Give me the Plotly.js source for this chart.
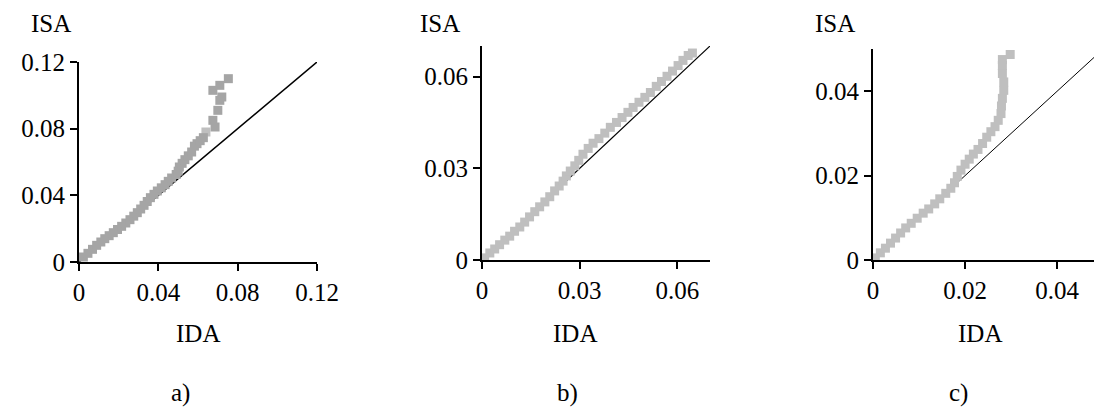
<!DOCTYPE html>
<html>
<head>
<meta charset="utf-8">
<script src="https://cdn.plot.ly/plotly-3.0.1.min.js"></script>
<style>
html,body{margin:0;padding:0;background:#fff;}
#chart{width:1094px;height:408px;}
</style>
</head>
<body>
<div id="chart"></div>
<script>
// Panel a)
const idaA = [0.0022,0.0045,0.0068,0.0089,0.011,0.013,0.0152,0.0173,0.0194,0.0215,0.0236,0.0257,0.0276,0.0294,0.0311,0.0328,0.0344,0.036,0.0378,0.0395,0.0415,0.0434,0.045,0.0467,0.0490,0.0500,0.0506,0.0520,0.0534,0.0551,0.0568,0.0582,0.0595,0.0611,0.0627,0.0675,0.0686,0.0700,0.071,0.072,0.0675,0.071,0.0753];
const isaA = [0.003,0.0052,0.0076,0.010,0.012,0.014,0.0158,0.0176,0.0195,0.0214,0.0234,0.0254,0.0275,0.0296,0.0318,0.034,0.0363,0.0386,0.0406,0.0426,0.0445,0.0464,0.0484,0.0504,0.0525,0.0545,0.057,0.0592,0.0614,0.0637,0.066,0.0695,0.0710,0.0728,0.0746,0.085,0.081,0.091,0.097,0.099,0.103,0.106,0.110];
const idaA2 = [0.0640];
const isaA2 = [0.0780];
// Panel b)
const idaB = [0.0008,0.0024,0.0039,0.0054,0.007,0.0085,0.010,0.0116,0.0131,0.0146,0.0162,0.0177,0.0193,0.0208,0.0223,0.0237,0.0249,0.0259,0.0271,0.0285,0.0297,0.031,0.0326,0.0341,0.0359,0.0377,0.0394,0.0413,0.043,0.0448,0.0464,0.0482,0.05,0.0517,0.0535,0.0551,0.0568,0.0585,0.0602,0.0617,0.0633,0.0646];
const isaB = [0.0007,0.0023,0.0036,0.005,0.0065,0.0078,0.0094,0.0108,0.0124,0.0141,0.0158,0.0174,0.019,0.0207,0.0226,0.0242,0.0258,0.0275,0.0291,0.0308,0.0326,0.0346,0.0365,0.0382,0.0397,0.0415,0.0434,0.045,0.0466,0.0483,0.0499,0.0516,0.0532,0.0548,0.0568,0.0584,0.0601,0.0618,0.0636,0.0653,0.0669,0.0677];
// Panel c)
const idaC = [0.0005,0.0016,0.0027,0.0038,0.0049,0.006,0.0071,0.0083,0.0096,0.0109,0.0121,0.0134,0.0145,0.0158,0.0169,0.0177,0.0183,0.0191,0.02,0.0209,0.0218,0.0228,0.0238,0.0247,0.0256,0.0265,0.0272,0.0278,0.0279,0.0281,0.0284,0.0284,0.0281,0.0281,0.0281,0.0298];
const isaC = [0.0005,0.0017,0.0028,0.004,0.0052,0.0064,0.0076,0.0087,0.0099,0.0111,0.0121,0.0133,0.0145,0.0158,0.017,0.0183,0.0198,0.0213,0.0227,0.0239,0.0251,0.0262,0.0276,0.0291,0.0304,0.0316,0.0331,0.0347,0.0365,0.0383,0.0402,0.0422,0.0442,0.0461,0.0475,0.0487];
// reference lines (IDA = ISA)
const lineA = [0, 0.12];
const lineB = [0, 0.07];
const lineC = [0, 0.048];
// ticks
const ticksA = [0, 0.04, 0.08, 0.12];
const tickTextA = ['0','0.04','0.08','0.12'];
const ticksB = [0, 0.03, 0.06];
const tickTextB = ['0','0.03','0.06'];
const ticksC = [0, 0.02, 0.04];
const tickTextC = ['0','0.02','0.04'];
const panelLabels = ['a)','b)','c)'];

const FONT = "'Liberation Serif', 'Times New Roman', Times, serif";
const dark = '#a5a5a5', light = '#bfbfbf';

const traces = [
  {x: lineA, y: lineA, xaxis:'x', yaxis:'y', mode:'lines', line:{color:'#000', width:1.5}, hoverinfo:'skip'},
  {x: idaA2, y: isaA2, xaxis:'x', yaxis:'y', mode:'markers', marker:{symbol:'square', size:9, color:light}},
  {x: idaA, y: isaA, xaxis:'x', yaxis:'y', mode:'markers', marker:{symbol:'square', size:9, color:dark}},
  {x: lineB, y: lineB, xaxis:'x2', yaxis:'y2', mode:'lines', line:{color:'#000', width:1.2}, hoverinfo:'skip'},
  {x: idaB, y: isaB, xaxis:'x2', yaxis:'y2', mode:'markers', marker:{symbol:'square', size:9, color:light}},
  {x: lineC, y: lineC, xaxis:'x3', yaxis:'y3', mode:'lines', line:{color:'#000', width:1}, hoverinfo:'skip'},
  {x: idaC, y: isaC, xaxis:'x3', yaxis:'y3', mode:'markers', marker:{symbol:'square', size:9, color:light}}
];

function ax(dom, range, tv, tt, anchor){
  return {domain: dom, range: range, tickvals: tv, ticktext: tt, anchor: anchor,
    showgrid:false, zeroline:false, showline:true, linecolor:'#000', linewidth:2,
    ticks:'outside', ticklen:7, tickwidth:2, tickcolor:'#000',
    tickfont:{family:FONT, size:25, color:'#000'}, fixedrange:true};
}

const W = 1094, H = 408;
const px = v => v / W, py = v => 1 - v / H;

function lab(text, x, y, size){
  return {text:text, x:px(x), y:py(y), xref:'paper', yref:'paper', xanchor:'center', yanchor:'middle',
    showarrow:false, font:{family:FONT, size:size, color:'#000'}};
}

const layout = {
  width: W, height: H,
  margin:{l:0, r:0, t:0, b:0},
  paper_bgcolor:'#fff', plot_bgcolor:'#fff',
  showlegend:false,
  font:{family:FONT, color:'#000'},
  xaxis: ax([px(79), px(317)], [0, 0.12], ticksA, tickTextA, 'y'),
  yaxis: ax([py(262), py(62)], [0, 0.12], ticksA, tickTextA, 'x'),
  xaxis2: ax([px(482), px(710)], [0, 0.07], ticksB, tickTextB, 'y2'),
  yaxis2: ax([py(260), py(46)], [0, 0.07], ticksB, tickTextB, 'x2'),
  xaxis3: ax([px(873), 1], [0, 0.048], ticksC, tickTextC, 'y3'),
  yaxis3: ax([py(260), py(49)], [0, 0.05], ticksC, tickTextC, 'x3'),
  annotations: [
    lab('ISA', 51, 23, 25), lab('ISA', 440, 23, 25), lab('ISA', 835, 23, 25),
    lab('IDA', 198, 333, 25), lab('IDA', 575, 333, 25), lab('IDA', 980, 333, 25),
    lab(panelLabels[0], 180, 393, 25), lab(panelLabels[1], 567, 393, 25), lab(panelLabels[2], 958, 393, 25)
  ]
};

Plotly.newPlot('chart', traces, layout, {displayModeBar:false, staticPlot:true});
</script>
</body>
</html>
